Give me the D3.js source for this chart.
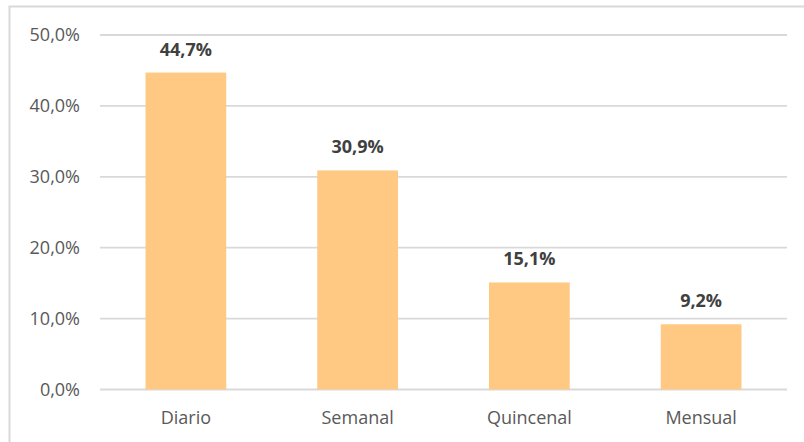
<!DOCTYPE html>
<html lang="es">
<head>
<meta charset="utf-8" />
<title>Frecuencia</title>
<style>
  body { margin: 0; background: #fff; }
  svg text { font-family: "Open Sans", "Noto Sans", sans-serif; }
</style>
</head>
<body>
<div id="chart"></div>
<script src="https://d3js.org/d3.v7.min.js"></script>
<script>
const categories = ["Diario", "Semanal", "Quincenal", "Mensual"];
const values = [44.7, 30.9, 15.1, 9.2];
const yTicks = [0, 10, 20, 30, 40, 50];

const width = 804, height = 442;
const margin = { top: 35, right: 17, bottom: 52.5, left: 100 };

const fmt = v => d3.format(".1f")(v).replace(".", ",") + "%";

const svg = d3.select("#chart").append("svg")
    .attr("width", width)
    .attr("height", height);

// chart frame (right and bottom cut off in the original)
svg.append("rect")
    .attr("x", 9.5).attr("y", 6.5)
    .attr("width", width + 20).attr("height", height + 20)
    .attr("fill", "none")
    .attr("stroke", "#d9d9d9")
    .attr("stroke-width", 2);

const x = d3.scaleBand()
    .domain(categories)
    .range([margin.left, width - margin.right])
    .paddingInner(0.53)
    .paddingOuter(0.265);

const y = d3.scaleLinear()
    .domain([0, 50])
    .range([height - margin.bottom, margin.top]);

// gridlines
svg.append("g")
    .selectAll("line")
    .data(yTicks)
    .join("line")
    .attr("x1", margin.left)
    .attr("x2", width - margin.right)
    .attr("y1", d => y(d))
    .attr("y2", d => y(d))
    .attr("stroke", "#d9d9d9")
    .attr("stroke-width", 1.8);

// y labels
svg.append("g")
    .selectAll("text")
    .data(yTicks)
    .join("text")
    .attr("x", 80)
    .attr("y", d => y(d))
    .attr("dy", "0.35em")
    .attr("text-anchor", "end")
    .attr("font-size", 18)
    .attr("fill", "#595959")
    .text(d => fmt(d));

// bars
svg.append("g")
    .selectAll("rect")
    .data(values)
    .join("rect")
    .attr("x", (d, i) => x(categories[i]))
    .attr("width", x.bandwidth())
    .attr("y", d => y(d))
    .attr("height", d => y(0) - y(d))
    .attr("fill", "#ffc984");

// value labels
svg.append("g")
    .selectAll("text")
    .data(values)
    .join("text")
    .attr("x", (d, i) => x(categories[i]) + x.bandwidth() / 2)
    .attr("y", d => y(d) - 17)
    .attr("text-anchor", "middle")
    .attr("font-size", 18)
    .attr("font-weight", "bold")
    .attr("fill", "#404040")
    .text(d => fmt(d));

// category labels
svg.append("g")
    .selectAll("text")
    .data(categories)
    .join("text")
    .attr("x", d => x(d) + x.bandwidth() / 2)
    .attr("y", y(0) + 34)
    .attr("text-anchor", "middle")
    .attr("font-size", 18)
    .attr("fill", "#595959")
    .text(d => d);
</script>
</body>
</html>
